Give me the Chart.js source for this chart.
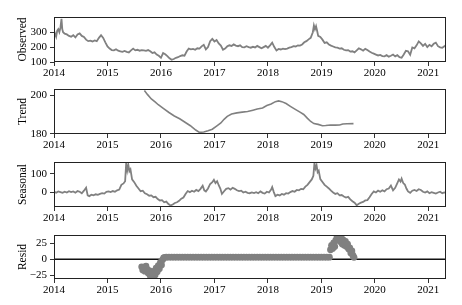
<!DOCTYPE html>
<html>
<head>
<meta charset="utf-8">
<script src="https://cdn.jsdelivr.net/npm/chart.js@4.4.1/dist/chart.umd.min.js"></script>
<style>
  body { margin: 0; background: #fff; }
  #wrap { position: relative; width: 462px; height: 305px; }
  canvas { position: absolute; left: 0; }
</style>
</head>
<body>
<div id="wrap">
  <canvas id="obs" width="462" height="72"></canvas>
  <canvas id="trend" width="462" height="72"></canvas>
  <canvas id="seas" width="462" height="72"></canvas>
  <canvas id="resid" width="462" height="72"></canvas>
</div>
<script>
const yearTicks = [2014, 2015, 2016, 2017, 2018, 2019, 2020, 2021];

const obsYears = [
  2014.00,2014.02,2014.04,2014.06,2014.08,2014.10,2014.12,2014.14,2014.155,2014.17,2014.20,2014.24,2014.28,2014.32,2014.36,2014.40,2014.44,2014.48,2014.52,2014.56,
  2014.60,2014.64,2014.68,2014.72,2014.76,2014.80,2014.84,2014.88,2014.92,2014.96,2015.00,2015.04,2015.08,2015.12,2015.16,2015.20,2015.24,2015.28,2015.32,2015.36,
  2015.40,2015.44,2015.48,2015.52,2015.56,2015.60,2015.64,2015.68,2015.72,2015.76,2015.80,2015.84,2015.88,2015.92,2015.96,2016.00,2016.04,2016.08,2016.12,2016.16,
  2016.20,2016.24,2016.28,2016.32,2016.36,2016.40,2016.44,2016.48,2016.52,2016.56,2016.60,2016.64,2016.68,2016.72,2016.76,2016.80,2016.84,2016.88,2016.92,2016.96,
  2017.00,2017.04,2017.08,2017.12,2017.16,2017.20,2017.24,2017.28,2017.32,2017.36,2017.40,2017.44,2017.48,2017.52,2017.56,2017.60,2017.64,2017.68,2017.72,2017.76,
  2017.80,2017.84,2017.88,2017.92,2017.96,2018.00,2018.04,2018.08,2018.12,2018.16,2018.20,2018.24,2018.28,2018.32,2018.36,2018.40,2018.44,2018.48,2018.52,2018.56,
  2018.60,2018.64,2018.68,2018.72,2018.76,2018.80,2018.84,2018.86,2018.88,2018.90,2018.92,2018.94,2018.98,2019.02,2019.06,2019.10,2019.14,2019.18,2019.22,2019.26,
  2019.30,2019.34,2019.38,2019.42,2019.46,2019.50,2019.54,2019.58,2019.62,2019.66,2019.70,2019.74,2019.78,2019.82,2019.86,2019.90,2019.94,2019.98,2020.02,2020.06,
  2020.10,2020.14,2020.18,2020.22,2020.26,2020.30,2020.34,2020.38,2020.42,2020.46,2020.50,2020.54,2020.58,2020.62,2020.66,2020.70,2020.74,2020.78,2020.82,2020.86,
  2020.90,2020.94,2020.98,2021.02,2021.06,2021.10,2021.14,2021.18,2021.22,2021.26,2021.30,2021.33
];
const obsValues = [
  265,290,270,310,320,300,330,390,320,300,290,285,275,270,280,265,285,292,275,268,
  250,240,243,238,245,240,262,280,262,232,205,190,180,178,186,176,172,168,174,168,
  164,178,190,178,182,176,180,178,175,180,172,160,165,150,142,128,160,152,140,125,
  115,120,128,132,140,145,142,170,190,185,188,182,192,190,205,215,185,200,240,255,
  238,248,225,210,182,190,205,212,208,218,210,206,212,200,198,206,200,196,202,198,
  208,200,192,200,208,196,212,230,200,178,188,184,190,186,190,196,200,206,204,212,
  210,218,232,240,252,262,300,345,320,340,310,275,268,250,228,232,218,210,204,198,
  196,190,192,182,178,180,170,172,165,178,192,185,176,188,180,170,162,156,150,144,
  148,140,138,146,136,142,150,138,146,132,128,150,175,172,148,198,192,212,238,225,
  208,222,200,215,205,222,230,206,198,195,205,215
];

const trendYears = [
  2015.69,2015.75,2015.82,2015.89,2015.95,2016.05,2016.15,2016.25,2016.35,2016.45,2016.55,2016.65,2016.72,2016.80,2016.88,2016.96,
  2017.04,2017.12,2017.18,2017.24,2017.32,2017.42,2017.52,2017.62,2017.72,2017.80,2017.90,2017.98,2018.06,2018.14,2018.20,2018.26,
  2018.34,2018.42,2018.52,2018.60,2018.67,2018.74,2018.80,2018.86,2018.94,2019.02,2019.08,2019.17,2019.26,2019.34,2019.40,2019.48,2019.60
];
const trendValues = [
  202.3,200.2,198.0,196.5,195.0,193.0,191.0,189.2,187.8,186.0,184.2,182.0,180.8,181.0,181.6,182.4,
  184.0,185.6,187.5,189.0,190.2,190.8,191.2,191.5,192.2,192.8,193.3,194.6,195.4,196.6,197.0,196.6,
  195.6,194.2,192.5,191.2,190.0,188.0,186.4,185.3,184.9,184.2,184.3,184.6,184.5,184.6,185.1,185.2,185.3
];

const seasYears = [
  2014.00,2014.04,2014.08,2014.12,2014.16,2014.20,2014.24,2014.28,2014.32,2014.36,2014.40,2014.44,2014.48,2014.52,2014.56,2014.60,2014.63,2014.66,2014.70,2014.74,
  2014.78,2014.82,2014.86,2014.90,2014.94,2014.98,2015.02,2015.06,2015.10,2015.14,2015.18,2015.22,2015.26,2015.30,2015.33,2015.35,2015.37,2015.39,2015.41,2015.43,
  2015.46,2015.50,2015.54,2015.58,2015.62,2015.66,2015.70,2015.74,2015.78,2015.82,2015.86,2015.90,2015.94,2015.98,2016.02,2016.06,2016.10,2016.14,2016.18,2016.22,
  2016.26,2016.30,2016.34,2016.38,2016.42,2016.46,2016.50,2016.54,2016.58,2016.62,2016.66,2016.70,2016.74,2016.78,2016.81,2016.84,2016.88,2016.92,2016.96,2016.99,
  2017.02,2017.05,2017.08,2017.11,2017.14,2017.18,2017.22,2017.26,2017.30,2017.34,2017.38,2017.42,2017.46,2017.50,2017.54,2017.58,2017.62,2017.66,2017.70,2017.74,
  2017.78,2017.82,2017.86,2017.90,2017.94,2017.98,2018.02,2018.06,2018.08,2018.11,2018.14,2018.18,2018.22,2018.26,2018.30,2018.34,2018.38,2018.42,2018.46,2018.50,
  2018.54,2018.58,2018.62,2018.66,2018.70,2018.74,2018.78,2018.82,2018.85,2018.87,2018.89,2018.91,2018.93,2018.95,2018.98,2019.02,2019.06,2019.10,2019.14,2019.18,
  2019.22,2019.26,2019.30,2019.34,2019.38,2019.42,2019.46,2019.50,2019.54,2019.58,2019.62,2019.66,2019.70,2019.74,2019.78,2019.82,2019.86,2019.90,2019.94,2019.98,
  2020.02,2020.06,2020.10,2020.14,2020.18,2020.22,2020.26,2020.30,2020.34,2020.38,2020.42,2020.45,2020.48,2020.50,2020.53,2020.56,2020.59,2020.62,2020.66,2020.70,
  2020.74,2020.78,2020.82,2020.86,2020.90,2020.94,2020.98,2021.02,2021.06,2021.10,2021.14,2021.18,2021.22,2021.26,2021.30,2021.33
];
const seasValues = [
  2,-3,4,0,-4,2,-2,5,0,4,-3,6,2,-6,8,24,-18,-22,-14,-18,
  -12,-15,-10,-6,-8,2,4,0,6,2,10,14,40,48,60,160,120,150,115,125,
  70,55,35,20,5,8,-6,-12,-20,-18,-28,-26,-38,-46,-44,-56,-52,-66,-74,-68,
  -60,-56,-48,-36,-30,-10,6,0,8,2,12,6,18,35,10,4,20,45,55,68,
  50,60,38,20,-10,5,18,22,14,24,18,10,6,8,-2,2,-4,-6,-2,-5,
  0,-6,4,-4,-8,2,-2,14,28,0,-22,-14,-18,-10,-14,-6,-8,0,6,2,
  12,10,18,16,30,40,55,70,90,160,130,148,110,118,72,56,40,30,20,8,
  -2,-10,-6,-18,-16,-24,-30,-26,-40,-50,-58,-72,-64,-58,-54,-46,-44,-28,-10,4,
  -2,8,2,10,4,16,20,36,10,24,50,70,58,74,50,42,20,4,-4,8,
  12,6,16,12,2,-2,4,-6,0,-4,-8,-2,2,-6,-2,-4
];

const residYears = [
  2015.64,2015.66,2015.68,2015.70,2015.72,2015.74,2015.76,2015.78,2015.80,2015.82,2015.83,2015.85,2015.87,2015.89,2015.91,2015.93,
  2015.95,2015.97,2015.99,2016.01,2016.03,2016.05,2016.07,
  2016.10,2016.15,2016.20,2016.25,2016.30,2016.35,2016.40,2016.45,2016.50,2016.55,2016.60,2016.65,2016.70,2016.75,2016.80,2016.85,2016.90,2016.95,
  2017.00,2017.05,2017.10,2017.15,2017.20,2017.25,2017.30,2017.35,2017.40,2017.45,2017.50,2017.55,2017.60,2017.65,2017.70,2017.75,2017.80,2017.85,2017.90,2017.95,
  2018.00,2018.05,2018.10,2018.15,2018.20,2018.25,2018.30,2018.35,2018.40,2018.45,2018.50,2018.55,2018.60,2018.65,2018.70,2018.75,2018.80,2018.85,2018.90,2018.95,
  2019.00,2019.05,2019.10,2019.15,
  2019.17,2019.19,2019.21,2019.23,2019.25,2019.27,2019.29,2019.31,2019.33,2019.35,2019.37,2019.39,2019.41,2019.43,2019.45,2019.47,
  2019.49,2019.51,2019.53,2019.55,2019.57,2019.59,2019.61
];
const residValues = [
  -12,-17,-14,-19,-11,-16,-22,-18,-26,-31,-22,-29,-19,-25,-14,-20,
  -10,-15,-5,-9,-1,2,3,
  3.2,3.2,3.2,3.2,3.2,3.2,3.2,3.2,3.2,3.2,3.2,3.2,3.2,3.2,3.2,3.2,3.2,3.2,
  3.2,3.2,3.2,3.2,3.2,3.2,3.2,3.2,3.2,3.2,3.2,3.2,3.2,3.2,3.2,3.2,3.2,3.2,3.2,3.2,
  3.2,3.2,3.2,3.2,3.2,3.2,3.2,3.2,3.2,3.2,3.2,3.2,3.2,3.2,3.2,3.2,3.2,3.2,3.2,3.2,
  3.2,3.2,3.2,3.2,
  15,22,17,26,20,30,38,33,40,28,35,24,30,22,28,20,
  24,16,18,10,13,6,3
];

const FONT = "'Liberation Serif', 'Times New Roman', serif";
const GRAY = '#808080';
const X_MAX = 2021.33;

const boxPlugin = {
  id: 'box',
  afterDatasetsDraw(chart) {
    const { ctx, chartArea: a } = chart;
    ctx.save();
    ctx.strokeStyle = '#222';
    ctx.lineWidth = 1;
    ctx.strokeRect(Math.round(a.left) + 0.5, Math.round(a.top) + 0.5,
      Math.round(a.right - a.left) - 1, Math.round(a.bottom - a.top) - 1);
    ctx.restore();
  }
};

function pairs(xs, ys) {
  return xs.map((x, i) => ({ x, y: ys[i] }));
}

function makePanel(id, top, cfg) {
  const canvas = document.getElementById(id);
  canvas.style.top = (top - 3) + 'px';
  return new Chart(canvas, {
    type: 'scatter',
    data: { datasets: cfg.datasets },
    options: {
      responsive: false,
      animation: false,
      layout: { padding: { top: 3, right: 16, left: 0, bottom: 0 } },
      plugins: { legend: { display: false }, tooltip: { enabled: false } },
      scales: {
        x: {
          type: 'linear',
          min: 2014,
          max: X_MAX,
          afterFit: s => { s.height = 24; s.paddingLeft = 0; s.paddingRight = 0; },
          afterBuildTicks: s => { s.ticks = yearTicks.map(v => ({ value: v })); },
          ticks: { callback: v => String(v), font: { family: FONT, size: 11 }, color: '#000', padding: 1, maxRotation: 0, autoSkip: false },
          grid: { drawOnChartArea: false, tickLength: 4, color: '#333' },
          border: { display: false }
        },
        y: {
          min: cfg.min,
          max: cfg.max,
          afterFit: s => { s.width = 54; s.paddingTop = 0; s.paddingBottom = 0; },
          afterBuildTicks: s => { s.ticks = cfg.ticks.map(v => ({ value: v })); },
          title: { display: true, text: cfg.title, font: { family: FONT, size: 11.5 }, color: '#000', padding: { top: 16, bottom: 0 } },
          ticks: {
            callback: v => (v < 0 ? '\u2212' + Math.abs(v) : String(v)),
            font: { family: FONT, size: 11 }, color: '#000', padding: 3, autoSkip: false
          },
          grid: { drawOnChartArea: false, tickLength: 4, color: '#333' },
          border: { display: false }
        }
      }
    },
    plugins: [boxPlugin]
  });
}

makePanel('obs', 17, {
  title: 'Observed', min: 100, max: 402, ticks: [100, 200, 300],
  datasets: [{ data: pairs(obsYears, obsValues), showLine: true, borderColor: GRAY, borderWidth: 1.8, pointRadius: 0, tension: 0 }]
});

makePanel('trend', 89, {
  title: 'Trend', min: 179.95, max: 203.1, ticks: [180, 200],
  datasets: [{ data: pairs(trendYears, trendValues), showLine: true, borderColor: GRAY, borderWidth: 1.6, pointRadius: 0, tension: 0 }]
});

makePanel('seas', 162, {
  title: 'Seasonal', min: -82, max: 166, ticks: [0, 100],
  datasets: [{ data: pairs(seasYears, seasValues), showLine: true, borderColor: GRAY, borderWidth: 1.8, pointRadius: 0, tension: 0 }]
});

makePanel('resid', 234, {
  title: 'Resid', min: -31.3, max: 38.3, ticks: [-25, 0, 25],
  datasets: [
    { data: pairs(residYears, residValues), pointRadius: 3.4, pointBackgroundColor: GRAY, pointBorderWidth: 0, pointBorderColor: GRAY, clip: 0 },
    { data: [{ x: 2014, y: 0 }, { x: X_MAX, y: 0 }], showLine: true, borderColor: '#111', borderWidth: 1.5, pointRadius: 0 }
  ]
});
</script>
</body>
</html>
